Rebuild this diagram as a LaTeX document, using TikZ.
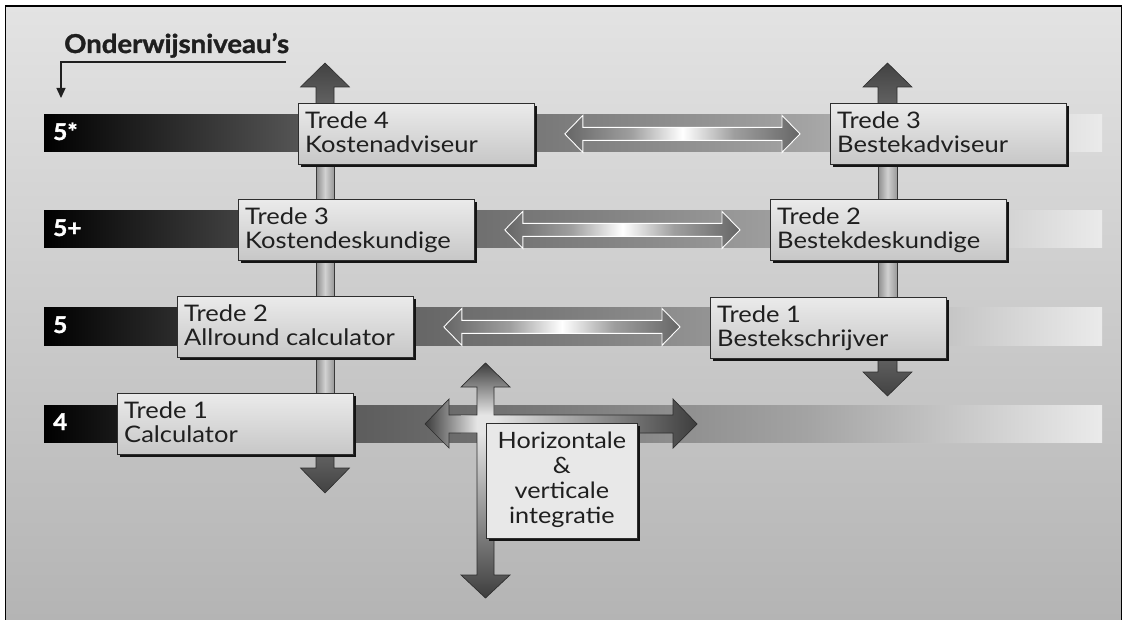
\documentclass[tikz,border=0pt]{standalone}
\usepackage{fontspec}
\setmainfont{Lato}[FakeStretch=1.12]
\newfontfamily\heavyfont{Lato}[FakeStretch=1.06, BoldFeatures={FakeBold=1.3}]
\usetikzlibrary{calc,arrows.meta,shadows}
\definecolor{bgtop}{gray}{0.89}
\definecolor{bgbot}{gray}{0.70}
\definecolor{boxtop}{gray}{0.92}
\definecolor{boxbot}{gray}{0.78}
\definecolor{iboxc}{gray}{0.91}
\definecolor{txt}{gray}{0.12}
\definecolor{edge}{gray}{0.18}
\definecolor{shadowc}{gray}{0.08}
\definecolor{barB}{gray}{0.33}
\definecolor{barC}{gray}{0.48}
\definecolor{barD}{gray}{0.64}
\definecolor{barE}{gray}{0.92}
\definecolor{dblEnd}{gray}{0.40}
\definecolor{dblMid}{gray}{0.62}
\definecolor{dblCen}{gray}{1}
\definecolor{arrD}{gray}{0.26}
\definecolor{arrL}{gray}{0.40}
\definecolor{shL}{gray}{0.55}
\definecolor{shM}{gray}{0.82}
\definecolor{shR}{gray}{0.60}
\definecolor{crD}{gray}{0.24}
\definecolor{crL}{gray}{0.90}
\pgfdeclarehorizontalshading{barshade}{100bp}{color(0bp)=(black); color(25bp)=(black); color(37bp)=(barB); color(49bp)=(barC); color(61bp)=(barD); color(75bp)=(barE); color(100bp)=(barE)}
\pgfdeclarehorizontalshading{dblshade}{100bp}{color(0bp)=(dblEnd); color(25bp)=(dblEnd); color(39bp)=(dblMid); color(50bp)=(dblCen); color(61bp)=(dblMid); color(75bp)=(dblEnd); color(100bp)=(dblEnd)}
\tikzset{
  boxshadow/.style={drop shadow={shadow xshift=3pt, shadow yshift=-3pt, fill=shadowc, opacity=1}},
  box/.style={draw=edge, line width=0.8pt, top color=boxtop, bottom color=boxbot,
    minimum width=236pt, minimum height=61pt, anchor=north west, inner sep=0pt, boxshadow},
  ibox/.style={draw=edge, line width=0.8pt, fill=iboxc,
    minimum width=151pt, minimum height=115pt, anchor=north west, inner sep=0pt, boxshadow},
  boxtext/.style={anchor=north west, align=left, inner sep=0pt, text=txt,
    font=\fontsize{22.8}{24}\selectfont},
  itext/.style={anchor=north, align=center, inner sep=0pt, text=txt,
    font=\fontsize{22.5}{25}\selectfont},
  bar/.style={shading=barshade},
  lvl/.style={anchor=base west, text=white, inner sep=0pt,
    font=\heavyfont\bfseries\fontsize{23}{24}\selectfont},
  dbl/.style={shading=dblshade, draw=white, line width=0.9pt},
  uparr/.style={draw=edge, line width=0.6pt, top color=arrD, bottom color=arrL},
  downarr/.style={draw=edge, line width=0.6pt, top color=arrL, bottom color=arrD},
  lightshaft/.style={draw=gray!45!black, line width=0.6pt, left color=shL, right color=shR, middle color=shM},
  crossline/.style={draw=edge, line width=0.7pt},
}
\newcommand\dblarr[2]{%
  \path[dbl] let \p1=($(#1.east)+(30,0)$), \p2=($(#2.west)+(-30,0)$) in
    (\x1,\y1) -- (\x1+18pt,\y1+18.5pt) -- (\x1+18pt,\y1+6.5pt) -- (\x2-18pt,\y1+6.5pt)
    -- (\x2-18pt,\y1+18.5pt) -- (\x2,\y1) -- (\x2-18pt,\y1-18.5pt) -- (\x2-18pt,\y1-6.5pt)
    -- (\x1+18pt,\y1-6.5pt) -- (\x1+18pt,\y1-18.5pt) -- cycle;}
\begin{document}
\begin{tikzpicture}[x=1pt,y=-1pt]
\useasboundingbox (0,0) rectangle (1127,620);
\clip (0,0) rectangle (1127,620);
\fill[white] (0,0) rectangle (1127,620);
% frame
\draw[line width=1.2pt, draw=black, top color=bgtop, bottom color=bgbot] (5.5,6) rectangle (1121.5,640);

% heading
\node[anchor=base west, inner sep=0pt, text=txt, font=\heavyfont\bfseries\fontsize{26}{28}\selectfont] (head) at (64,53) {Onderwijsniveau’s};
\coordinate (hl) at (286,62);
\coordinate (hd) at (61,98);
\draw[line width=1.4pt, draw=txt, -{Triangle[length=10pt,width=9pt]}] (hl) -| (hd);

% level bars
\path[bar] (44,115) rectangle (1102,152);
\path[bar] (44,211) rectangle (1102,248);
\path[bar] (44,308) rectangle (1102,345);
\path[bar] (44,405) rectangle (1102,442);
\node[lvl] (l5s) at (53,140) {5*};
\node[lvl] (l5p) at (53,236) {5+};
\node[lvl] (l5) at (53,333) {5};
\node[lvl] (l4) at (53,430) {4};

% column shafts
\coordinate (colL) at (325,0);
\coordinate (colR) at (887.5,0);
\path[lightshaft] (316,150) rectangle (334,400);
\path[lightshaft] (878,150) rectangle (897,305);
% dark end arrows
\path[uparr] (316,110) -- (316,87) -- (300.5,87) -- (325,63) -- (349.5,87) -- (334,87) -- (334,110) -- cycle;
\path[downarr] (316,448) -- (316,468) -- (300.5,468) -- (325,493) -- (349.5,468) -- (334,468) -- (334,448) -- cycle;
\path[uparr] (878,110) -- (878,87) -- (863,87) -- (887.5,63) -- (912,87) -- (897,87) -- (897,110) -- cycle;
\path[downarr] (878,350) -- (878,372) -- (863,372) -- (887.5,396) -- (912,372) -- (897,372) -- (897,350) -- cycle;

% cross arrow
\begin{scope}
\clip (485.5,363) -- (510,387) -- (494,387) -- (494,415) -- (673,415) -- (673,399) -- (697,424)
  -- (673,448) -- (673,433) -- (494,433) -- (494,575) -- (510,575) -- (485.5,598) -- (461,575)
  -- (477,575) -- (477,433) -- (449,433) -- (449,448) -- (425,424) -- (449,399) -- (449,415)
  -- (477,415) -- (477,387) -- (461,387) -- cycle;
\shade[left color=crD, right color=crL] (425,399) rectangle (477,448);
\shade[left color=crL, right color=crD] (494,399) rectangle (697,448);
\shade[top color=crD, bottom color=crL] (461,363) rectangle (510,415);
\shade[top color=crL, bottom color=crD] (461,433) rectangle (510,598);
\fill[crL] (477,415) rectangle (494,433);
\end{scope}
\path[crossline] (485.5,363) -- (510,387) -- (494,387) -- (494,415) -- (673,415) -- (673,399) -- (697,424)
  -- (673,448) -- (673,433) -- (494,433) -- (494,575) -- (510,575) -- (485.5,598) -- (461,575)
  -- (477,575) -- (477,433) -- (449,433) -- (449,448) -- (425,424) -- (449,399) -- (449,415)
  -- (477,415) -- (477,387) -- (461,387) -- cycle;

% boxes
\node[box] (b4k) at (298,103) {};
\node[box] (b3k) at (238,199) {};
\node[box] (b2a) at (177,296) {};
\node[box] (b1c) at (117,393) {};
\node[box] (b3b) at (830,103) {};
\node[box] (b2b) at (770,199) {};
\node[box] (b1b) at (710,297) {};
\node[ibox] (integ) at (486,423) {};

% horizontal double arrows between boxes
\dblarr{b4k}{b3b}
\dblarr{b3k}{b2b}
\dblarr{b2a}{b1b}

% box texts
\node[boxtext] (t4k) at ($(b4k.north west)+(7,8.5)$) {Trede 4\\Kostenadviseur};
\node[boxtext] (t3k) at ($(b3k.north west)+(7,8.5)$) {Trede 3\\Kostendeskundige};
\node[boxtext] (t2a) at ($(b2a.north west)+(7,8.5)$) {Trede 2\\Allround calculator};
\node[boxtext] (t1c) at ($(b1c.north west)+(7,8.5)$) {Trede 1\\Calculator};
\node[boxtext] (t3b) at ($(b3b.north west)+(7,8.5)$) {Trede 3\\Bestekadviseur};
\node[boxtext] (t2b) at ($(b2b.north west)+(7,8.5)$) {Trede 2\\Bestekdeskundige};
\node[boxtext] (t1b) at ($(b1b.north west)+(7,8.5)$) {Trede 1\\Bestekschrijver};
\node[itext] (tint) at ($(integ.north)+(0,9)$) {Horizontale\\\&\\verticale\\integratie};
\end{tikzpicture}
\end{document}
